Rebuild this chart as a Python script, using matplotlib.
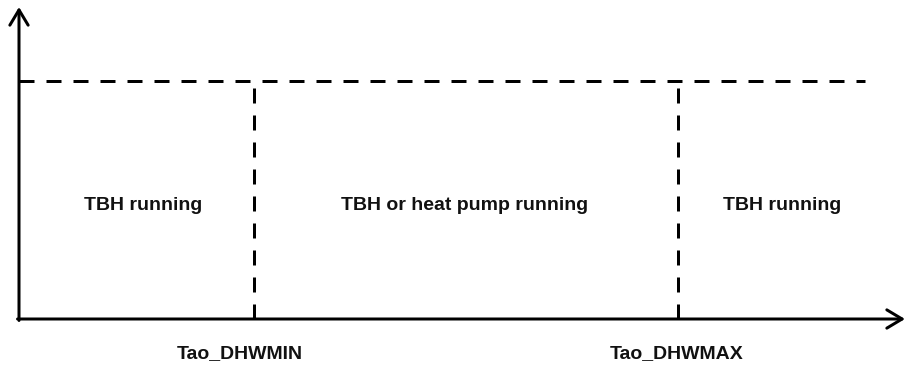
import matplotlib
matplotlib.use("Agg")
from matplotlib import pyplot as plt

# schematic in pixel units of the 907x367 picture
region_labels = ["TBH running", "TBH or heat pump running", "TBH running"]
region_x = [143, 465, 782]
region_y = 205
threshold_labels = ["Tao_DHWMIN", "Tao_DHWMAX"]
threshold_x = [254, 678]
threshold_label_x = [240, 677]
threshold_label_y = 354
limit_y = 81
axis_x0, axis_y0 = 19, 319
axis_x_end, axis_y_end = 905, 7
limit_x_end = 865

plt.rcParams['lines.scale_dashes'] = False
px = 0.72  # points per pixel at dpi 100

fig = plt.figure(figsize=(9.07, 3.67), dpi=100)
ax = fig.add_axes([0, 0, 1, 1])
ax.set_xlim(0, 907)
ax.set_ylim(367, 0)
ax.axis('off')

lw = 3 * px
on, off = 15 * px, 12 * px

# axes with arrows
arrow = dict(arrowstyle='->,head_length=0.55,head_width=0.33', lw=lw, color='black',
             shrinkA=0, shrinkB=0, mutation_scale=20)
ax.annotate('', xy=(axis_x0, axis_y_end), xytext=(axis_x0, axis_y0 + 1.5), arrowprops=arrow)
ax.annotate('', xy=(axis_x_end, axis_y0), xytext=(axis_x0 - 1.5, axis_y0), arrowprops=arrow)

# upper limit line
ax.plot([axis_x0, limit_x_end], [limit_y, limit_y], color='black', lw=lw,
        linestyle=(0, (on, off)), dash_capstyle='butt')

# threshold lines
for x in threshold_x:
    ax.plot([x, x], [limit_y, axis_y0], color='black', lw=lw,
            linestyle=(20 * px, (on, off)), dash_capstyle='butt')

font = dict(family='Liberation Sans', fontweight='bold', fontsize=14, color='#111111')
for lab, x in zip(region_labels, region_x):
    ax.text(x, region_y, lab, ha='center', va='center', **font)
for lab, x in zip(threshold_labels, threshold_label_x):
    ax.text(x, threshold_label_y, lab, ha='center', va='center', **font)

fig.savefig('out.png', dpi=100)
